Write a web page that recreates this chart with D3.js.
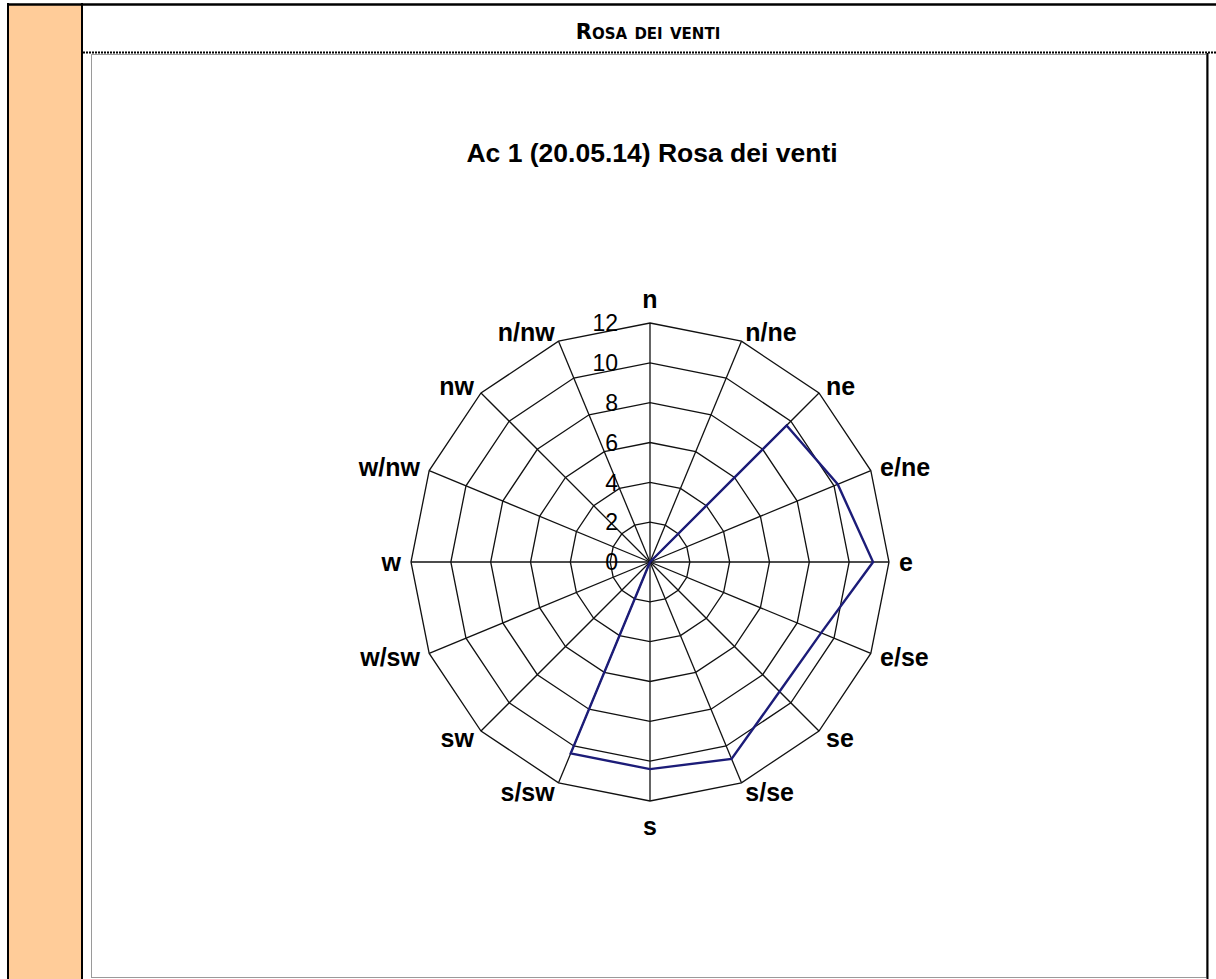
<!DOCTYPE html>
<html>
<head>
<meta charset="utf-8">
<script src="https://cdn.jsdelivr.net/npm/d3@7"></script>
<style>
  html, body { margin: 0; padding: 0; background: #fff; }
  svg { display: block; }
</style>
</head>
<body>
<svg id="chart" width="1216" height="979"></svg>
<script>
// wind directions, clockwise from north
const directions = ["n", "n/ne", "ne", "e/ne", "e", "e/se", "se", "s/se",
                    "s", "s/sw", "sw", "w/sw", "w", "w/nw", "nw", "n/nw"];
// frequency per direction
const frequencies = [0, 0, 9.7, 10.2, 11.2, 9.3, 9.2, 10.7,
                     10.4, 10.4, 0, 0, 0, 0, 0, 0];
const tickValues = [0, 2, 4, 6, 8, 10, 12];

const chartTitle = "Ac 1 (20.05.14) Rosa dei venti";
const headerTitle = "Rosa dei venti";

const svg = d3.select("#chart");

// page frame: orange side column, borders, dotted divider
svg.append("rect")
  .attr("x", 8).attr("y", 4).attr("width", 74).attr("height", 980)
  .attr("fill", "#ffcc99");
svg.append("line")
  .attr("x1", 7).attr("x2", 1216).attr("y1", 4.5).attr("y2", 4.5)
  .attr("stroke", "#000").attr("stroke-width", 2.5);
svg.append("line")
  .attr("x1", 8).attr("x2", 8).attr("y1", 3).attr("y2", 979)
  .attr("stroke", "#000").attr("stroke-width", 2);
svg.append("line")
  .attr("x1", 82).attr("x2", 82).attr("y1", 3).attr("y2", 979)
  .attr("stroke", "#000").attr("stroke-width", 2);
svg.append("line")
  .attr("x1", 83).attr("x2", 1216).attr("y1", 52.5).attr("y2", 52.5)
  .attr("stroke", "#000").attr("stroke-width", 2)
  .attr("stroke-dasharray", "2,1");

// header text in small caps
svg.append("text")
  .attr("x", 648).attr("y", 39)
  .attr("text-anchor", "middle")
  .style("font-family", "'DejaVu Sans', Verdana, sans-serif")
  .style("font-weight", "bold")
  .style("font-size", "21px")
  .style("font-variant", "small-caps")
  .text(headerTitle);

// chart area frame
svg.append("rect")
  .attr("x", 91.5).attr("y", 54.5).attr("width", 1115).attr("height", 923)
  .attr("fill", "#fff").attr("stroke", "#9a9a9a").attr("stroke-width", 1);
svg.append("line")
  .attr("x1", 1207.5).attr("x2", 1207.5).attr("y1", 53).attr("y2", 979)
  .attr("stroke", "#000").attr("stroke-width", 2);

// title
svg.append("text")
  .attr("x", 652).attr("y", 162)
  .attr("text-anchor", "middle")
  .style("font-family", "'Liberation Sans', Arial, sans-serif")
  .style("font-weight", "bold")
  .style("font-size", "26.5px")
  .text(chartTitle);

// radar
const cx = 650, cy = 562;
const r = d3.scaleLinear().domain([0, 12]).range([0, 239]);
const angle = d3.scalePoint().domain(directions).range([0, 2 * Math.PI * 15 / 16]);

const g = svg.append("g").attr("transform", `translate(${cx},${cy})`);

const ringLine = d3.lineRadial()
  .angle(d => angle(d))
  .curve(d3.curveLinearClosed);

// rings
g.append("g").selectAll("path")
  .data(tickValues.filter(v => v > 0))
  .join("path")
    .attr("d", v => ringLine.radius(() => r(v))(directions))
    .attr("fill", "none")
    .attr("stroke", "#111")
    .attr("stroke-width", 1.3);

// spokes
g.append("g").selectAll("line")
  .data(directions)
  .join("line")
    .attr("x1", 0).attr("y1", 0)
    .attr("x2", d => r(12) * Math.sin(angle(d)))
    .attr("y2", d => -r(12) * Math.cos(angle(d)))
    .attr("stroke", "#111")
    .attr("stroke-width", 1.3);

// value axis labels
g.append("g").selectAll("text")
  .data(tickValues)
  .join("text")
    .attr("x", -32)
    .attr("y", v => -r(v))
    .attr("dy", "0.36em")
    .attr("text-anchor", "end")
    .style("font-family", "'Liberation Sans', Arial, sans-serif")
    .style("font-size", "23px")
    .text(d => d);

// direction labels
g.append("g").selectAll("text")
  .data(directions)
  .join("text")
    .each(function(d) {
      const a = angle(d);
      const s = Math.sin(a), c = Math.cos(a);
      const rr = r(12) + 10;
      let x = rr * s, y = -rr * c;
      let anchor = "middle", dy = "0.36em";
      if (Math.abs(s) < 0.1) {
        dy = c > 0 ? "-0.1em" : "0.85em";
        y += c > 0 ? -3 : 3;
      } else {
        anchor = s > 0 ? "start" : "end";
      }
      d3.select(this)
        .attr("x", x).attr("y", y).attr("dy", dy)
        .attr("text-anchor", anchor);
    })
    .style("font-family", "'Liberation Sans', Arial, sans-serif")
    .style("font-weight", "bold")
    .style("font-size", "25px")
    .text(d => d);

// data series
const series = directions.map((d, i) => ({ dir: d, value: frequencies[i] }));
g.append("path")
  .datum(series)
  .attr("d", d3.lineRadial()
    .angle(d => angle(d.dir))
    .radius(d => r(d.value))
    .curve(d3.curveLinearClosed))
  .attr("fill", "none")
  .attr("stroke", "#1c1c78")
  .attr("stroke-width", 2.4)
  .attr("stroke-linejoin", "miter");
</script>
</body>
</html>
